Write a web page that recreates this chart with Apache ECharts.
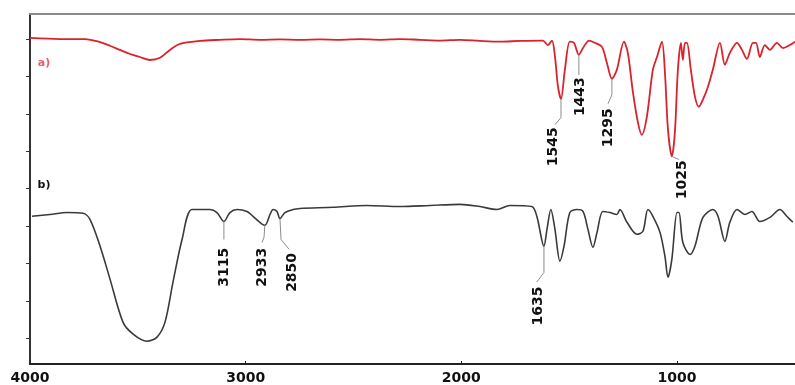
<!DOCTYPE html>
<html>
<head>
<meta charset="utf-8">
<script src="https://cdn.jsdelivr.net/npm/echarts@6/dist/echarts.min.js"></script>
<style>html,body{margin:0;padding:0;background:#fff;}#c{width:795px;height:385px;}</style>
</head>
<body>
<div id="c"></div>
<script>
// Spectrum a) : [wavenumber cm-1, transmittance (arb.)]
const spectrumA = [
[4000,80.3],[3861,80.0],[3745,80.0],[3675,79.2],[3629,78.2],[3583,77.1],[3536,76.0],[3490,75.2],
[3444,74.4],[3397,75.0],[3351,77.1],[3305,78.7],[3212,79.5],[3119,79.8],[3026,80.0],[2934,79.8],
[2841,79.9],[2748,79.8],[2656,79.9],[2563,79.8],[2470,80.0],[2377,79.8],[2285,80.0],[2192,79.8],
[2099,79.6],[2006,79.8],[1914,79.5],[1821,79.3],[1728,79.5],[1622,79.6],[1599,78.4],[1580,79.6],
[1566,75.3],[1552,67.3],[1538,64.0],[1520,71.8],[1497,79.3],[1478,79.0],[1455,75.8],[1436,77.6],
[1408,79.6],[1381,79.0],[1348,77.9],[1325,73.6],[1302,69.4],[1279,71.8],[1246,79.3],[1228,76.3],
[1204,65.6],[1181,57.6],[1163,54.4],[1140,59.2],[1112,71.8],[1093,75.2],[1070,79.3],[1056,71.0],
[1042,55.8],[1024,48.6],[1010,55.0],[996,71.8],[982,79.0],[973,74.4],[963,79.0],[954,79.0],
[936,71.8],[917,64.6],[899,61.9],[880,63.8],[857,67.2],[834,71.8],[801,79.0],[778,73.1],
[755,76.3],[722,79.0],[699,77.1],[676,74.7],[648,79.0],[634,79.0],[616,75.2],[593,78.4],
[569,77.1],[537,79.0],[509,77.6],[477,78.4],[453,79.3]
];
// Spectrum b)
const spectrumB = [
[3991,32.6],[3907,33.1],[3828,33.6],[3754,33.4],[3722,31.8],[3675,24.6],[3629,15.8],[3569,4.3],
[3522,1.1],[3458,-0.8],[3411,0.3],[3374,4.3],[3337,15.0],[3295,26.4],[3249,34.4],[3166,34.4],
[3133,33.6],[3101,31.2],[3073,33.6],[3040,34.4],[2994,33.9],[2966,32.6],[2911,30.2],[2887,33.1],
[2873,34.4],[2855,33.9],[2841,32.0],[2818,33.6],[2781,34.4],[2748,34.7],[2595,35.0],[2438,35.5],
[2285,35.2],[2146,35.5],[2006,35.8],[1914,35.2],[1835,34.4],[1775,35.5],[1673,35.2],[1650,32.6],
[1617,24.6],[1603,29.1],[1585,34.4],[1566,29.1],[1543,20.6],[1524,24.6],[1497,33.6],[1464,34.4],
[1436,33.9],[1413,29.1],[1390,24.3],[1371,28.3],[1344,33.9],[1311,33.6],[1279,33.1],[1265,34.4],
[1232,31.0],[1186,27.8],[1158,28.6],[1135,34.4],[1112,32.6],[1079,28.3],[1056,21.9],[1042,16.3],
[1024,21.1],[1000,33.6],[991,33.6],[973,25.6],[940,22.4],[917,24.6],[880,32.3],[834,34.4],
[810,32.6],[778,25.9],[755,31.0],[722,34.4],[685,33.1],[653,33.9],[616,31.2],[569,32.3],
[523,34.4],[491,32.6],[463,31.0]
];
const xTickValues = [1000, 2000, 3000, 4000];
const yTickValues = [0, 10, 20, 30, 40, 50, 60, 70, 80];
// Peak annotations (data coordinates): label, leader path, text anchor
const peakLabels = ['1545','1443','1295','1025','3115','2933','2850','1635'];
const peakPaths = [
  [[1538,64.0],[1538,59.0],[1566,57.1]],
  [[1455,75.8],[1455,70.4]],
  [[1302,69.4],[1302,65.1],[1320,62.7]],
  [[1024,48.6],[991,47.8]],
  [[3101,31.2],[3101,26.4]],
  [[2911,30.2],[2915,27.0],[2924,25.6]],
  [[2841,32.0],[2836,26.4],[2799,23.8]],
  [[1617,24.6],[1617,17.6],[1650,15.0]]
];
const peakTextAt = [[1575,51.2],[1450,64.6],[1320,56.3],[977,42.4],[3101,19.0],[2924,19.0],[2785,17.6],[1645,8.6]];
const seriesTags = ['a)','b)'];
const seriesTagAt = [[3935,73.6],[3935,40.8]];

const chart = echarts.init(document.getElementById('c'), null, {renderer:'canvas'});
const FONT = '"DejaVu Sans", sans-serif';
chart.setOption({
  animation:false,
  backgroundColor:'#fff',
  grid:{left:30, right:0, top:14, bottom:20, containLabel:false},
  xAxis:[{
    type:'value', inverse:true, min:453, max:4000, position:'bottom',
    splitLine:{show:false},
    axisLine:{show:true, onZero:false, lineStyle:{color:'#222', width:2}},
    axisTick:{show:true, inside:true, length:3, customValues:xTickValues, lineStyle:{color:'#222'}},
    axisLabel:{show:true, customValues:xTickValues, margin:7, color:'#111', fontFamily:FONT, fontWeight:'bold', fontSize:14,
      formatter:function(v){return String(Math.round(v));}}
  },{
    type:'value', position:'top', inverse:true, min:453, max:4000,
    splitLine:{show:false},
    axisLine:{show:true, onZero:false, lineStyle:{color:'#8a8a8a', width:2}},
    axisTick:{show:false}, axisLabel:{show:false}
  }],
  yAxis:{
    type:'value', min:-6.9, max:86.7,
    splitLine:{show:false},
    axisLine:{show:true, onZero:false, lineStyle:{color:'#333', width:2}},
    axisTick:{show:true, inside:false, length:4, customValues:yTickValues, lineStyle:{color:'#333'}},
    axisLabel:{show:false}
  },
  series:[
    {type:'line', data:spectrumA, showSymbol:false, smooth:0.3, lineStyle:{color:'#d8232c', width:1.8}, z:3},
    {type:'line', data:spectrumB, showSymbol:false, smooth:0.3, lineStyle:{color:'#3a3a3a', width:1.6}, z:3},
    {type:'custom', coordinateSystem:'cartesian2d', clip:false, z:4,
     data: peakLabels.map((l,i)=>peakPaths[i][0]),
     renderItem:function(params, api){
       const i = params.dataIndex;
       const pts = peakPaths[i].map(p=>api.coord(p));
       const t = api.coord(peakTextAt[i]);
       return {type:'group', children:[
         {type:'polyline', shape:{points:pts}, style:{stroke:'#8c8c8c', lineWidth:1, fill:null}},
         {type:'text', x:t[0], y:t[1], rotation:Math.PI/2,
          style:{text:peakLabels[i], font:'bold 14px '+FONT, fill:'#111', align:'center', verticalAlign:'middle'}}
       ]};
     }},
    {type:'custom', coordinateSystem:'cartesian2d', clip:false, z:4,
     data: seriesTagAt,
     renderItem:function(params, api){
       const i = params.dataIndex;
       const t = api.coord(seriesTagAt[i]);
       return {type:'text', x:t[0], y:t[1],
         style:{text:seriesTags[i], font:'bold 11px '+FONT, fill: i===0 ? '#e0606e' : '#111', align:'center', verticalAlign:'middle'}};
     }}
  ]
});
</script>
</body>
</html>
